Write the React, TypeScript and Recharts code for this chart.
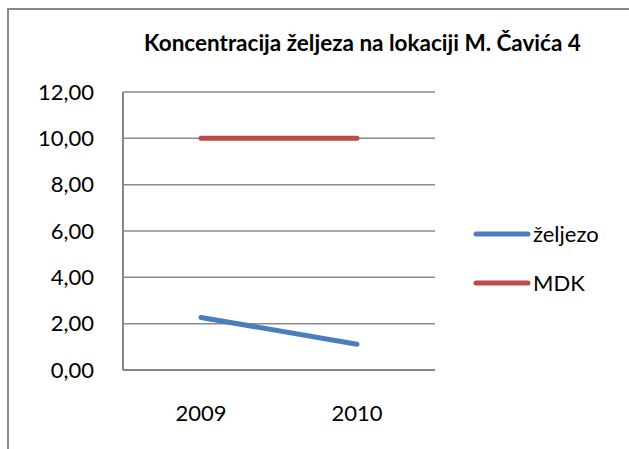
import React from 'react'
import { LineChart, Line, XAxis, YAxis, CartesianGrid, Legend } from 'recharts'

const years = ['2009', '2010']
const zeljezo = [2.27, 1.11]
const mdk = [10, 10]
const yTicks = [0, 2, 4, 6, 8, 10, 12]

const seriesNames = { zeljezo: 'željezo', mdk: 'MDK' }
const seriesColors = { zeljezo: '#4a7ebb', mdk: '#be4b48' }

const data = years.map((year, i) => ({ year, zeljezo: zeljezo[i], mdk: mdk[i] }))

const font = 'Lato, "Open Sans", sans-serif'

function fmt(v: number) {
  return v.toFixed(2).replace('.', ',')
}

function LegendBox() {
  const items = [
    { key: 'zeljezo', label: seriesNames.zeljezo, color: seriesColors.zeljezo },
    { key: 'mdk', label: seriesNames.mdk, color: seriesColors.mdk },
  ]
  return (
    <div style={{ fontFamily: font, fontSize: 22, color: '#000' }}>
      {items.map((it) => (
        <div key={it.key} style={{ display: 'flex', alignItems: 'center', height: 49 }}>
          <svg width={58} height={10} style={{ marginRight: 2 }}>
            <line x1={3} y1={5} x2={55} y2={5} stroke={it.color} strokeWidth={5} strokeLinecap="round" />
          </svg>
          <span>{it.label}</span>
        </div>
      ))}
    </div>
  )
}

export default function App() {
  return (
    <div style={{ position: 'absolute', left: 0, top: 0, width: 629, height: 449, overflow: 'hidden', background: '#fff' }}>
      <div
        style={{
          position: 'absolute',
          left: 7,
          top: 8,
          width: 660,
          height: 480,
          borderTop: '2px solid #8a8a8a',
          borderLeft: '2px solid #8a8a8a',
        }}
      />
      <div
        style={{
          position: 'absolute',
          left: 0,
          top: 29,
          width: 725,
          textAlign: 'center',
          fontFamily: font,
          fontWeight: 700,
          fontSize: 22.5,
          color: '#000',
        }}
      >
        Koncentracija željeza na lokaciji M. Čavića 4
      </div>
      <div style={{ position: 'absolute', left: 0, top: 0 }}>
        <LineChart width={629} height={449} data={data} margin={{ top: 92, right: 194, bottom: 29, left: 13 }}>
          <CartesianGrid vertical={false} stroke="#8c8c8c" strokeWidth={1.5} />
          <XAxis
            dataKey="year"
            scale="band"
            height={50}
            axisLine={{ stroke: '#868686', strokeWidth: 2 }}
            tickLine={false}
            tickMargin={29}
            tick={{ fill: '#000', fontSize: 22, fontFamily: font }}
          />
          <YAxis
            width={110}
            domain={[0, 12]}
            ticks={yTicks}
            tickFormatter={fmt}
            axisLine={{ stroke: '#868686', strokeWidth: 2 }}
            tickLine={false}
            tickMargin={23}
            tick={{ fill: '#000', fontSize: 22, fontFamily: font }}
          />
          <Legend
            layout="horizontal"
            verticalAlign="middle"
            wrapperStyle={{ left: 473, top: 209, width: 150 }}
            content={() => <LegendBox />}
          />
          <Line
            type="linear"
            dataKey="zeljezo"
            name={seriesNames.zeljezo}
            stroke={seriesColors.zeljezo}
            strokeWidth={5}
            strokeLinecap="round"
            dot={false}
            activeDot={false}
            isAnimationActive={false}
          />
          <Line
            type="linear"
            dataKey="mdk"
            name={seriesNames.mdk}
            stroke={seriesColors.mdk}
            strokeWidth={5}
            strokeLinecap="round"
            dot={false}
            activeDot={false}
            isAnimationActive={false}
          />
        </LineChart>
      </div>
    </div>
  )
}
